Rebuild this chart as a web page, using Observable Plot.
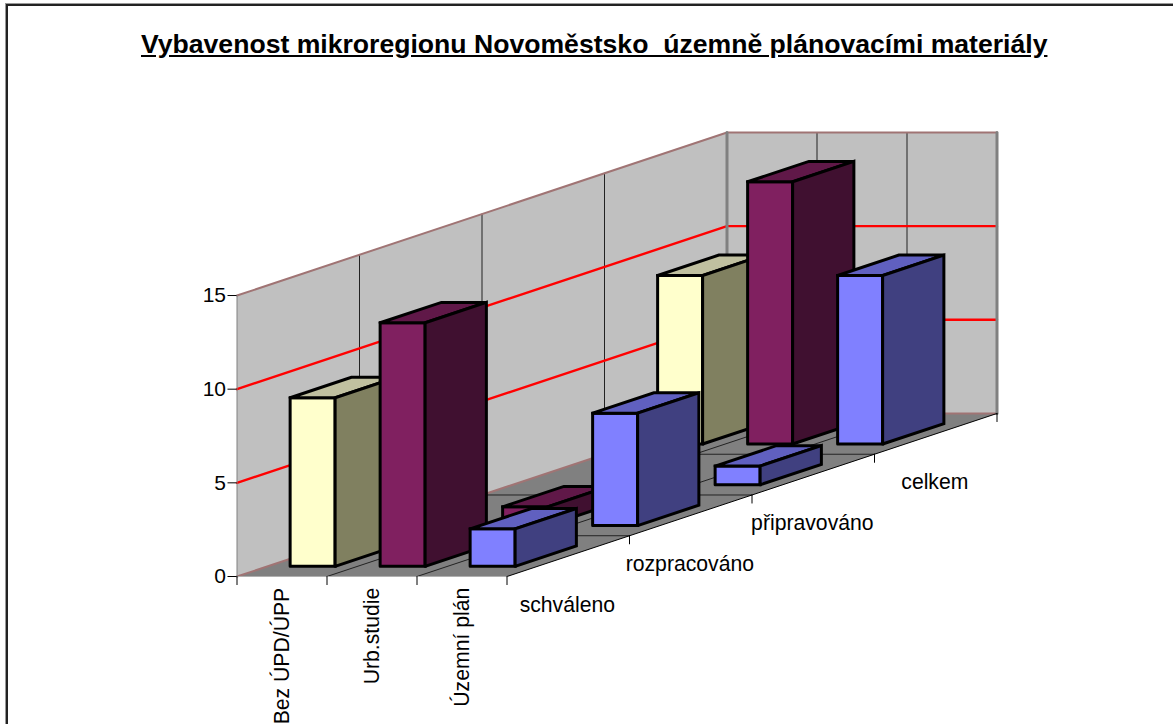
<!DOCTYPE html>
<html lang="cs">
<head>
<meta charset="utf-8">
<script src="https://cdn.jsdelivr.net/npm/d3@7"></script>
<script src="https://cdn.jsdelivr.net/npm/@observablehq/plot@0.6"></script>
<style>
html,body{margin:0;padding:0;background:#fff;overflow:hidden;width:1173px;height:724px}
#frame{position:absolute;left:6px;top:4px;right:-10px;bottom:-10px;border-left:2px solid #222;border-top:2px solid #222;box-shadow:-1px -1px 0 #999;pointer-events:none}
#title{height:70px;box-sizing:border-box;padding:29px 0 0 141px;font:bold 26.6px "Liberation Sans",Arial,sans-serif;text-decoration:underline;white-space:pre;color:#000;line-height:30px}
svg{display:block}
</style>
</head>
<body>
<div id="frame"></div>
<div id="title">Vybavenost mikroregionu Novoměstsko  územně plánovacími materiály</div>
<div id="chart"></div>
<script>
const categories = ["Bez ÚPD/ÚPP", "Urb.studie", "Územní plán"];
const series = ["schváleno", "rozpracováno", "připravováno", "celkem"];
const bezUpd = [9, 0, 0, 9];
const urbStudie = [13, 1, 0, 14];
const uzemniPlan = [2, 6, 1, 9];
const valueTicks = [0, 5, 10, 15];
const redGrid = [5, 10];
const edgeGrid = [0, 15];
const frontColors = ["#ffffcc", "#802060", "#8080ff"];
const topColors = ["#c0c0a0", "#601848", "#6060c0"];
const sideColors = ["#808060", "#401030", "#404080"];

const valuesByCategory = [bezUpd, urbStudie, uzemniPlan];
const nC = categories.length, nS = series.length, vMax = 15;
// oblique projection: one depth step, in category units and value units
const kx = 122.5 / 90, ky = 40.75 / 18.73;
const P = (c, s, v) => ({X: c + s * kx, Y: v + s * ky});
const poly = (id, pts, color) => pts.map(([c, s, v]) => ({...P(c, s, v), id, color}));

// walls and floor
const walls = [
  ...poly("side", [[0,0,0],[0,nS,0],[0,nS,vMax],[0,0,vMax],[0,0,0]], "#c0c0c0"),
  ...poly("back", [[0,nS,0],[nC,nS,0],[nC,nS,vMax],[0,nS,vMax],[0,nS,0]], "#c0c0c0"),
  ...poly("floor", [[0,0,0],[nC,0,0],[nC,nS,0],[0,nS,0],[0,0,0]], "#808080")
];
const lines = (id, pts) => pts.map(([c, s, v]) => ({...P(c, s, v), id}));
const thinGrid = [];
for (let s = 1; s < nS; s++) {
  thinGrid.push(...lines("ws" + s, [[0,s,0],[0,s,vMax]]), ...lines("fs" + s, [[0,s,0],[nC,s,0]]));
}
for (let c = 1; c < nC; c++) {
  thinGrid.push(...lines("wc" + c, [[c,nS,0],[c,nS,vMax]]), ...lines("fc" + c, [[c,0,0],[c,nS,0]]));
}
const gridPath = v => lines("g" + v, [[0,0,v],[0,nS,v],[nC,nS,v]]);
const corners = [...lines("k0", [[0,nS,0],[0,nS,vMax]]), ...lines("k1", [[nC,nS,0],[nC,nS,vMax]])];

// bars, back row first, left to right within a row
const barW = 0.5, barD = 0.5;
const faces = [];
for (let s = nS - 1; s >= 0; s--) {
  valuesByCategory.forEach((vals, c) => {
    const v = vals[s];
    if (!v) return;
    const x0 = c + (1 - barW) / 2, x1 = x0 + barW;
    const d0 = s + (1 - barD) / 2, d1 = d0 + barD;
    faces.push(
      ...poly(`f${s}-${c}`, [[x0,d0,0],[x1,d0,0],[x1,d0,v],[x0,d0,v],[x0,d0,0]], frontColors[c]),
      ...poly(`t${s}-${c}`, [[x0,d0,v],[x1,d0,v],[x1,d1,v],[x0,d1,v],[x0,d0,v]], topColors[c]),
      ...poly(`r${s}-${c}`, [[x1,d0,0],[x1,d1,0],[x1,d1,v],[x1,d0,v],[x1,d0,0]], sideColors[c])
    );
  });
}

const font = '"Liberation Sans", Arial, sans-serif';
const lineOpts = {x: "X", y: "Y", z: "id"};
const depthTicks = d3.range(0, nS + 1).slice(1).map(s => P(nC, s, 0));

const chart = Plot.plot({
  width: 1173, height: 654,
  marginLeft: 236.5, marginRight: 176.5, marginTop: 62, marginBottom: 148,
  x: {domain: [0, nC + nS * kx]},
  y: {domain: [0, vMax + nS * ky]},
  color: {type: "identity"},
  style: {fontFamily: font, background: "transparent", overflow: "visible"},
  marks: [
    Plot.line(walls, {...lineOpts, fill: "color", stroke: null}),
    Plot.line(thinGrid, {...lineOpts, stroke: "#222", strokeWidth: 1}),
    ...redGrid.map(v => Plot.line(gridPath(v), {...lineOpts, stroke: "#ff0000", strokeWidth: 2.4})),
    ...edgeGrid.map(v => Plot.line(gridPath(v), {...lineOpts, stroke: "#a07474", strokeWidth: 2})),
    Plot.line(corners, {...lineOpts, stroke: "#808080", strokeWidth: 3}),
    Plot.line(lines("left", [[0,0,0],[0,0,vMax]]), {...lineOpts, stroke: "#808080", strokeWidth: 1}),
    Plot.line(lines("edge", [[nC,0,0],[nC,nS,0]]), {...lineOpts, stroke: "#000", strokeWidth: 1}),
    Plot.line(lines("front", [[0,0,0],[nC,0,0]]), {...lineOpts, stroke: "#b0b0b0", strokeWidth: 1}),
    Plot.line(faces, {...lineOpts, fill: "color", stroke: "#000", strokeWidth: 3, strokeLinejoin: "miter", strokeMiterlimit: 4}),
    Plot.axisY({ticks: valueTicks, tickSize: 9, tickPadding: 2, fontSize: 21, tickFormat: d3.format("d"), label: null, color: "#000"}),
    Plot.axisX({ticks: d3.range(0, nC + 1), tickSize: 9, tickFormat: () => "", label: null, color: "#000"}),
    Plot.ruleX(depthTicks, {x: "X", y1: "Y", y2: d => d.Y - 0.48, stroke: "#000", strokeWidth: 1}),
    Plot.text(categories, {
      x: (d, i) => i + 0.5, y: () => -0.6, text: d => d, rotate: -90,
      textAnchor: "end", fontSize: 21.2, fill: "#000"
    }),
    Plot.text(series, {
      x: (d, i) => P(nC, i + 0.5, 0).X - 0.01,
      y: (d, i) => P(nC, i + 0.5, 0).Y - 2.6,
      text: d => d, fontSize: 21.2, fill: "#000"
    })
  ]
});
document.getElementById("chart").appendChild(chart);
</script>
</body>
</html>
